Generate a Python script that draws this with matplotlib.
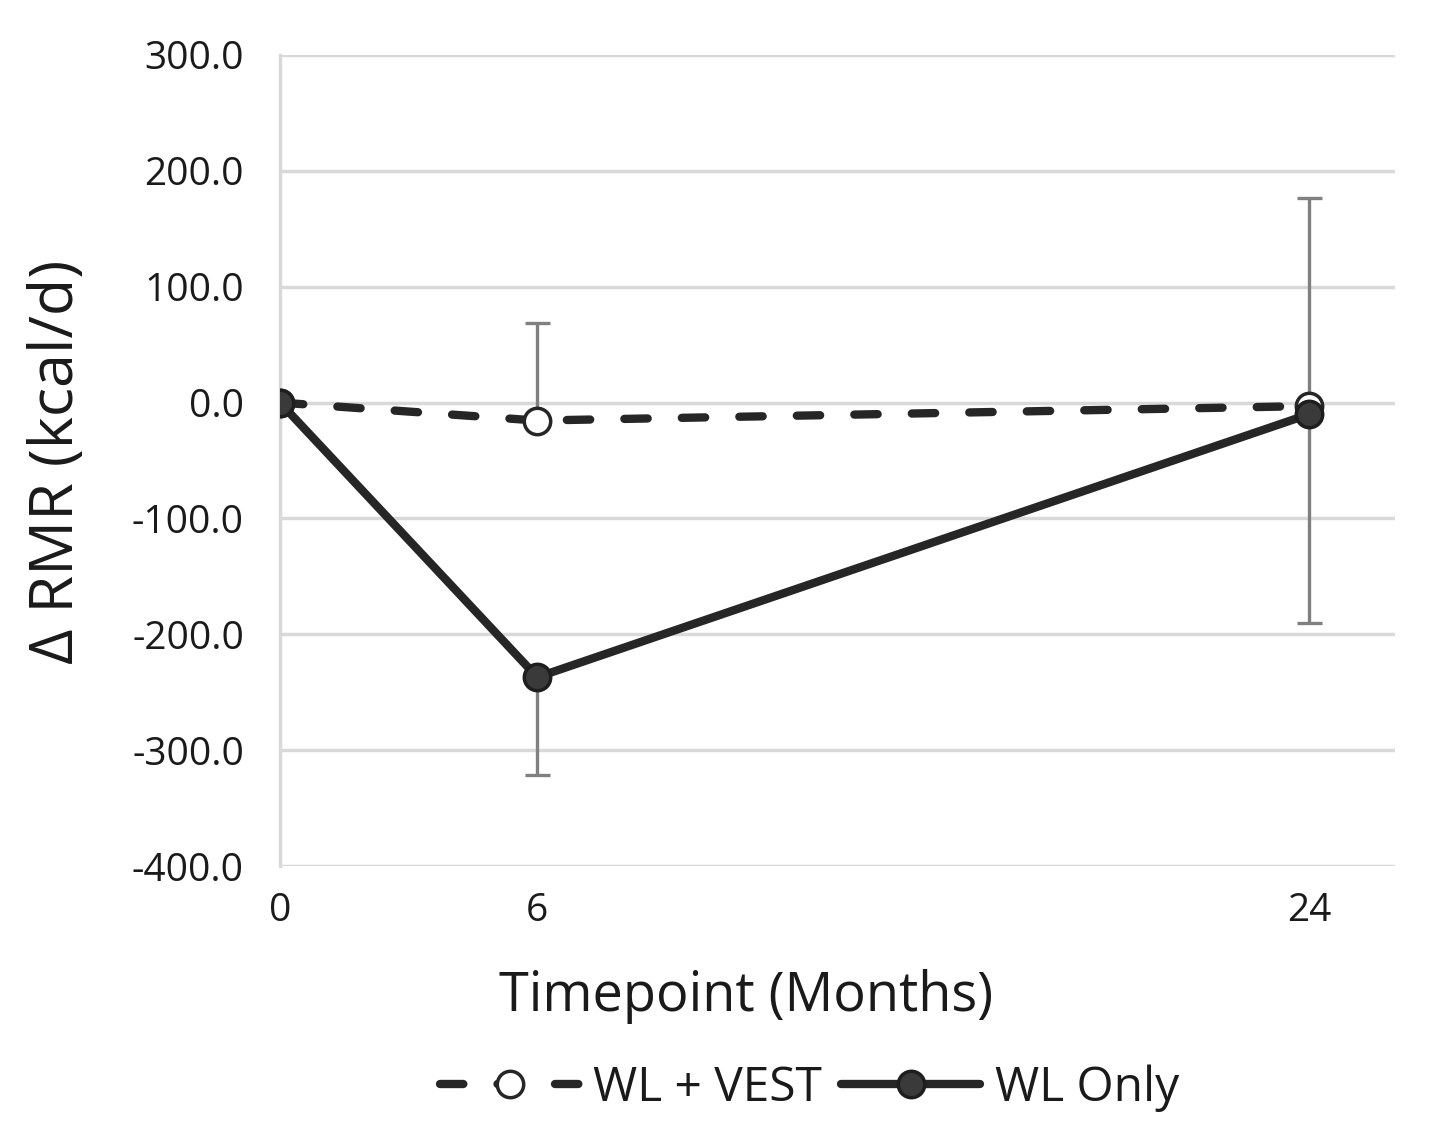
import matplotlib
matplotlib.use("Agg")
import matplotlib.pyplot as plt

# Data
timepoints = [0, 6, 24]
vest_mean = [0.0, -15.5, -3.0]
vest_err_up = [0.0, 84.0, 180.0]
only_mean = [0.0, -237.0, -10.0]
only_err_down = [0.0, 84.0, 180.0]
yticks = [300, 200, 100, 0, -100, -200, -300, -400]
xticks = [0, 6, 24]

plt.rcParams['font.family'] = ['Open Sans', 'DejaVu Sans']

fig = plt.figure(figsize=(14.56, 11.48), dpi=100)
ax = fig.add_axes([0.1923, 0.2456, 0.9581 - 0.1923, 0.9521 - 0.2456])

line_col = '#262626'
err_col = '#808080'

# error bars
ax.errorbar(timepoints, vest_mean, yerr=[[0, 0, 0], vest_err_up], fmt='none',
            ecolor=err_col, elinewidth=2.4, capsize=9, capthick=2.4, zorder=2)
ax.errorbar(timepoints, only_mean, yerr=[only_err_down, [0, 0, 0]], fmt='none',
            ecolor=err_col, elinewidth=2.4, capsize=9, capthick=2.4, zorder=2)

l1, = ax.plot(timepoints, vest_mean, color=line_col, lw=6, linestyle=(0, (2.8, 4.1)),
              dash_capstyle='round', marker='o', markersize=19, markerfacecolor='white',
              markeredgecolor=line_col, markeredgewidth=2.5, zorder=3, label='WL + VEST')
l2, = ax.plot(timepoints, only_mean, color=line_col, lw=6, solid_capstyle='round',
              marker='o', markersize=19, markerfacecolor='#3a3a3a',
              markeredgecolor='#1e1e1e', markeredgewidth=2.5, zorder=4, label='WL Only')

ax.set_xlim(0, 26)
ax.set_ylim(-400, 300)
ax.set_yticks(yticks)
ax.set_yticklabels([f"{v:.1f}" for v in yticks])
ax.set_xticks(xticks)
ax.set_xticklabels([str(v) for v in xticks])

ax.grid(axis='y', color='#d9d9d9', lw=2.5, zorder=0)
ax.set_axisbelow(True)
for s in ['top', 'right', 'bottom']:
    ax.spines[s].set_visible(False)
ax.spines['left'].set_color('#d9d9d9')
ax.spines['left'].set_linewidth(2.5)
ax.tick_params(axis='both', length=0, labelsize=28, colors='#1a1a1a')
ax.tick_params(axis='y', pad=26)
ax.tick_params(axis='x', pad=19)

fig.text(746 / 1456, 1 - 997 / 1148, 'Timepoint (Months)', fontsize=39, color='#1a1a1a',
         ha='center', va='center')
fig.text(57 / 1456, 1 - 462 / 1148, 'Δ RMR (kcal/d)', fontsize=44, color='#1a1a1a',
         ha='center', va='center', rotation=90)

leg = fig.legend(handles=[l1, l2], loc='center', bbox_to_anchor=(0.556, 0.052), ncol=2,
                 frameon=False, fontsize=34.5, handlelength=2.9, handletextpad=0.3,
                 columnspacing=0.4, labelcolor='#1a1a1a')

fig.savefig('out.png', dpi=100)
